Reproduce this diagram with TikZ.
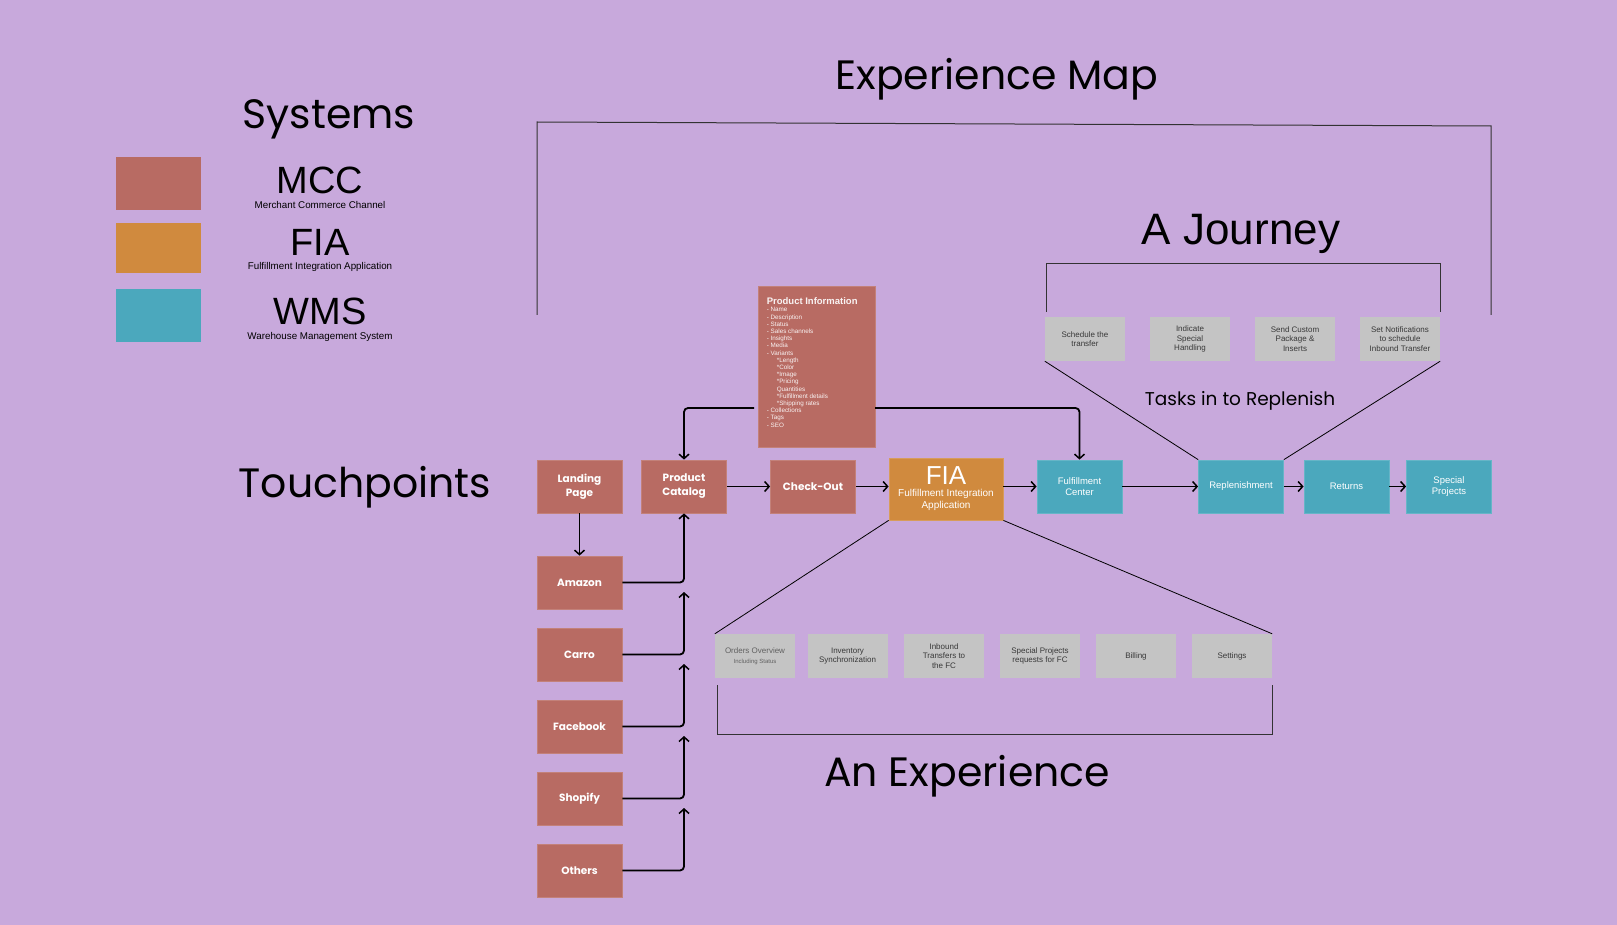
\documentclass[tikz,border=0pt]{standalone}
\usepackage{fontspec}
\setmainfont{Liberation Sans}
\newfontfamily\pop{Poppins}
\usetikzlibrary{positioning,calc,arrows.meta}

\definecolor{bg}{HTML}{C8A9DC}
\definecolor{mcc}{HTML}{B86B63}
\definecolor{fia}{HTML}{D08A3E}
\definecolor{wms}{HTML}{4BA8BD}
\definecolor{task}{HTML}{C4C4C4}

\tikzset{
	box/.style={minimum width=85pt,minimum height=53pt,inner sep=0pt,align=center,text=white},
	mccbox/.style={box,fill=mcc,draw=mcc!85!white,line width=0.8pt,font=\pop\bfseries\fontsize{10.5}{14}\selectfont},
	fiabox/.style={box,fill=fia,draw=fia!85!white,line width=0.8pt,minimum width=114pt,minimum height=62pt},
	wmsbox/.style={box,fill=wms,draw=wms!85!white,line width=0.8pt,font=\fontsize{9.5}{11}\selectfont},
	taskbox/.style={fill=task,minimum width=80pt,minimum height=44pt,inner sep=0pt,align=center,text=black!78,font=\fontsize{8}{9.5}\selectfont},
	legendbox/.style={minimum width=85.5pt,inner sep=0pt},
	heading/.style={font=\pop\fontsize{41}{48}\selectfont,anchor=base,inner sep=0pt},
	plainheading/.style={font=\rmfamily\fontsize{44}{48}\selectfont,anchor=base,inner sep=0pt},
	bigname/.style={font=\rmfamily\fontsize{38}{40}\selectfont,anchor=base,inner sep=0pt,text depth=0pt},
	smallname/.style={font=\rmfamily\fontsize{9.8}{11}\selectfont,anchor=base,inner sep=0pt},
	link/.style={-{Straight Barb[length=4.5pt,width=10pt,line width=1.5pt]},line width=1.8pt,rounded corners=4pt},
	frame/.style={line width=1pt,draw=black!80},
	fan/.style={line width=0.8pt},
}

\begin{document}
\begin{tikzpicture}[x=1pt,y=-1pt]
	\fill[bg] (0,0) rectangle (1617,925);
	\useasboundingbox (0,0) rectangle (1617,925);

	% legend
	\node[heading] (systems) at (329,129) {Systems};
	\node[legendbox,fill=mcc,minimum height=53pt] (lmcc) at (158.25,183.5) {};
	\node[legendbox,fill=fia,minimum height=50pt] (lfia) at (158.25,248) {};
	\node[legendbox,fill=wms,minimum height=53pt] (lwms) at (158.25,315.5) {};
	\node[bigname] (nmcc) at (320,194) {MCC};
	\node[smallname] (smcc) at (320,209) {Merchant Commerce Channel};
	\node[bigname] (nfia) at (320,256) {FIA};
	\node[smallname] (sfia) at (320,270) {Fulfillment Integration Application};
	\node[bigname] (nwms) at (320,324) {WMS};
	\node[smallname] (swms) at (320,339) {Warehouse Management System};

	% titles
	\node[heading] (expmap) at (997,90) {Experience Map};
	\node[plainheading] (journey) at (1241,245) {A Journey};
	\node[heading] (touch) at (365,497) {Touchpoints};
	\node[heading] (anexp) at (967,786) {An Experience};
	\node[heading,font=\pop\fontsize{18.5}{22}\selectfont] (tasks) at (1240,405) {Tasks in to Replenish};

	% brackets
	\draw[frame] (537,315) -- (537,122) -- (1491,126) -- (1491,315);
	\draw[frame] (1046,312) -- (1046,264) -- (1440,264) -- (1440,312);
	\draw[frame] (717,685) -- (717,734) -- (1272,734) -- (1272,685);

	% touchpoints row
	\node[mccbox] (landing) at (579.5,486.5) {Landing\\Page};
	\node[mccbox] (catalog) at (684,486.5) {Product\\Catalog};
	\node[mccbox] (checkout) at (813,486.5) {Check-Out};
	\node[fiabox] (fia) at (946,489) {\fontsize{26}{24}\selectfont FIA\\ \fontsize{10}{11}\selectfont Fulfillment Integration\\Application};
	\node[wmsbox] (fc) at (1079.5,486.5) {Fulfillment\\Center};
	\node[wmsbox] (repl) at (1241,486.5) {Replenishment};
	\node[wmsbox] (returns) at (1346.5,486.5) {Returns};
	\node[wmsbox] (special) at (1449,486.5) {Special\\Projects};

	\draw[link] (catalog) -- (checkout);
	\draw[link] (checkout) -- (checkout -| fia.west);
	\draw[link] (fia.east |- fc) -- (fc);
	\draw[link] (fc) -- (repl);
	\draw[link] (repl) -- (returns);
	\draw[link] (returns) -- (special);

	% product information
	\node[fill=mcc,draw=mcc!85!white,line width=0.8pt,minimum width=117pt,minimum height=161pt] (info) at (816.5,366.5) {};
	\node[anchor=north west,align=left,inner sep=0pt,text=white!92!mcc,font=\fontsize{6.3}{7.2}\selectfont] (infotext) at ([shift={(9pt,-12pt)}]info.north west)
		{{\fontsize{9.5}{7.2}\selectfont\bfseries Product Information}\\
		- Name\\- Description\\- Status\\- Sales channels\\- Insights\\- Media\\- Variants\\
		\hspace*{10pt}*Length\\\hspace*{10pt}*Color\\\hspace*{10pt}*Image\\\hspace*{10pt}*Pricing\\
		\hspace*{10pt}Quantities\\\hspace*{10pt}*Fulfillment details\\\hspace*{10pt}*Shipping rates\\
		- Collections\\- Tags\\- SEO};
	\coordinate (pl) at (754,408);
	\coordinate (pr) at (875,408);
	\draw[link] (pl) -| (catalog.north);
	\draw[link] (pr) -| (fc.north);

	% channels
	\foreach \name/\txt [count=\i] in {amazon/Amazon,carro/Carro,facebook/Facebook,shopify/Shopify,others/Others}
		\node[mccbox] (\name) at (579.5,510.5+72*\i) {\txt};
	\draw[link] (landing) -- (amazon);
	\draw[link] (amazon.east) -| (catalog.south);
	\foreach \name/\prev in {carro/amazon,facebook/carro,shopify/facebook,others/shopify}
		\draw[link] (\name.east) -| ($(\prev.east -| catalog.south)+(0,9.5)$);

	% journey tasks
	\node[taskbox] (sched) at (1085,339) {Schedule the\\transfer};
	\node[taskbox] (handling) at (1190,339) {Indicate\\Special\\Handling};
	\node[taskbox] (package) at (1295,339) {Send Custom\\Package \&\\Inserts};
	\node[taskbox] (notify) at (1400,339) {Set Notifications\\to schedule\\Inbound Transfer};
	\draw[fan] (sched.south west) -- (repl.north west);
	\draw[fan] (notify.south east) -- (repl.north east);

	% experience items
	\node[taskbox,text=black!62] (orders) at (755,656) {Orders Overview\\ \fontsize{6}{7}\selectfont Including Status};
	\node[taskbox,text width=80pt] (inventory) at (847.5,656) {Inventory\\Synchronization};
	\node[taskbox] (inbound) at (944,656) {Inbound\\Transfers to\\the FC};
	\node[taskbox] (requests) at (1040,656) {Special Projects\\requests for FC};
	\node[taskbox] (billing) at (1136,656) {Billing};
	\node[taskbox] (settings) at (1232,656) {Settings};
	\draw[fan] (fia.south west) -- (orders.north west);
	\draw[fan] (fia.south east) -- (settings.north east);
\end{tikzpicture}
\end{document}
